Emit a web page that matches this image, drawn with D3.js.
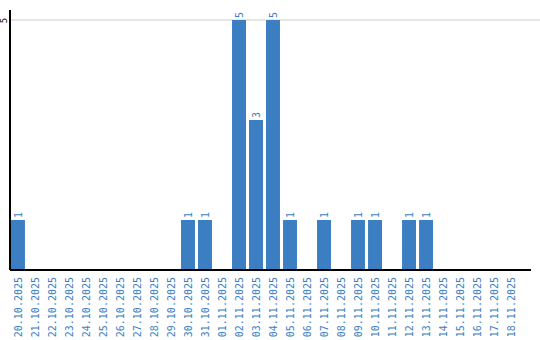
<!DOCTYPE html>
<html>
<head>
<meta charset="utf-8">
<script src="https://cdn.jsdelivr.net/npm/d3@7"></script>
<style>
  body { margin: 0; background: #fff; }
  text { font-family: "DejaVu Sans Mono", monospace; }
</style>
</head>
<body>
<svg id="chart" width="540" height="340"></svg>
<script>
const days = [
  "20.10.2025", "21.10.2025", "22.10.2025", "23.10.2025", "24.10.2025",
  "25.10.2025", "26.10.2025", "27.10.2025", "28.10.2025", "29.10.2025",
  "30.10.2025", "31.10.2025", "01.11.2025", "02.11.2025", "03.11.2025",
  "04.11.2025", "05.11.2025", "06.11.2025", "07.11.2025", "08.11.2025",
  "09.11.2025", "10.11.2025", "11.11.2025", "12.11.2025", "13.11.2025",
  "14.11.2025", "15.11.2025", "16.11.2025", "17.11.2025", "18.11.2025"
];
const counts = [1, 0, 0, 0, 0, 0, 0, 0, 0, 0, 1, 1, 0, 5, 3, 5, 1, 0, 1, 0, 1, 1, 0, 1, 1, 0, 0, 0, 0, 0];
const yTicks = [5];

const blue = "#3b7ec2";
const svg = d3.select("#chart");

const x = d3.scaleBand().domain(days).range([11, 518]).paddingInner(0.18).paddingOuter(0);
const y = d3.scaleLinear().domain([0, 5.2]).range([270, 10]);

// grid
svg.selectAll(".grid")
  .data(yTicks)
  .join("line")
  .attr("class", "grid")
  .attr("x1", 10).attr("x2", 540)
  .attr("y1", d => y(d)).attr("y2", d => y(d))
  .attr("stroke", "#ccc");

// bars
const data = days.map((d, i) => ({ day: d, v: counts[i] }));
svg.selectAll(".bar")
  .data(data.filter(d => d.v > 0))
  .join("rect")
  .attr("class", "bar")
  .attr("x", d => x(d.day))
  .attr("y", d => y(d.v))
  .attr("width", x.bandwidth())
  .attr("height", d => 270 - y(d.v))
  .attr("fill", blue);

// value labels
svg.selectAll(".val")
  .data(data.filter(d => d.v > 0))
  .join("text")
  .attr("class", "val")
  .attr("transform", d => `translate(${x(d.day) + x.bandwidth() / 2 + 4},${y(d.v) - 2}) rotate(-90)`)
  .attr("font-size", 10)
  .attr("fill", blue)
  .text(d => d.v);

// x axis
const xAxis = svg.append("g").attr("transform", "translate(0,270)")
  .call(d3.axisBottom(x).tickSize(0).tickPadding(0));
xAxis.select(".domain").attr("d", "M10,0H531").attr("stroke", "#000").attr("stroke-width", 2);
xAxis.selectAll("text")
  .attr("font-size", 10)
  .attr("fill", blue)
  .attr("text-anchor", "end")
  .attr("dy", null)
  .attr("y", null)
  .attr("transform", "translate(4,7) rotate(-90)");

// y axis
const yAxis = svg.append("g").attr("transform", "translate(10,0)")
  .call(d3.axisLeft(y).tickValues(yTicks).tickFormat(d3.format("d")).tickSize(0).tickPadding(0));
yAxis.select(".domain").attr("d", "M0,10V270").attr("stroke", "#000").attr("stroke-width", 2);
yAxis.selectAll("text")
  .attr("font-size", 9)
  .attr("fill", "#000")
  .attr("text-anchor", "middle")
  .attr("x", null).attr("dy", null)
  .attr("transform", "translate(-3,0) rotate(-90)");
</script>
</body>
</html>
